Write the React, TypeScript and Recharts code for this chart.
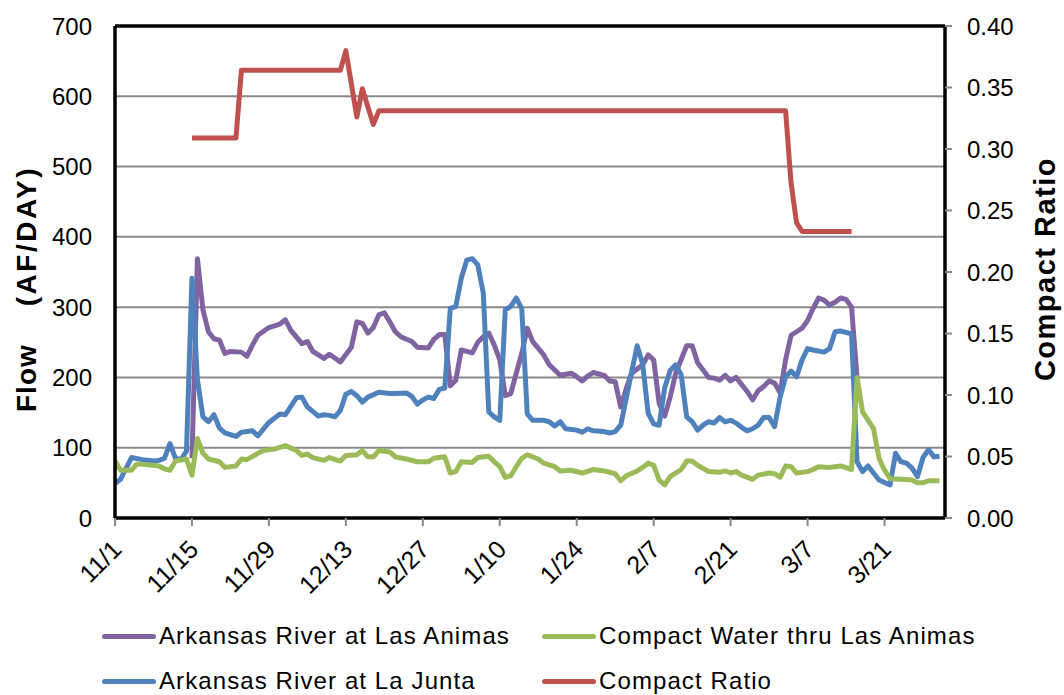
import { LineChart, Line, XAxis, YAxis, CartesianGrid, ReferenceLine } from "recharts";

// x values are days counted from 11/1
const tickDays = [0, 14, 28, 42, 56, 70, 84, 98, 112, 126, 140];
const tickLabels = ["11/1", "11/15", "11/29", "12/13", "12/27", "1/10", "1/24", "2/7", "2/21", "3/7", "3/21"];
const flowTicks = [0, 100, 200, 300, 400, 500, 600, 700];
const ratioTicks = [0, 0.05, 0.1, 0.15, 0.2, 0.25, 0.3, 0.35, 0.4];

// Arkansas River at Las Animas (AF/day)
const animasPoints = [
  [14, 85], [15, 369], [16, 296], [17, 265], [18, 255], [19, 253], [20, 234], [21, 237], [23, 236], [24, 230],
  [25, 246], [26, 260], [28, 271], [30, 276], [31, 282], [32, 267], [34, 248], [35, 251], [36, 237], [38, 227],
  [39, 233], [41, 222], [43, 243], [44, 279], [45, 277], [46, 263], [47, 271], [48, 289], [49, 292], [50, 279],
  [51, 265], [52, 258], [54, 251], [55, 243], [57, 242], [58, 254], [59, 261], [60, 261], [61, 188], [62, 196],
  [63, 239], [64, 237], [65, 235], [66, 250], [67, 258], [68, 263], [69, 246], [70, 225], [71, 174], [72, 177],
  [73, 206], [74, 234], [75, 270], [76, 251], [78, 232], [79, 218], [81, 203], [83, 206], [84, 201], [85, 195],
  [86, 202], [87, 207], [89, 203], [90, 195], [91, 194], [92, 158], [93, 184], [94, 206], [96, 218], [97, 232],
  [98, 225], [99, 163], [100, 145], [101, 172], [102, 206], [104, 245], [105, 245], [106, 221], [108, 200], [109, 199],
  [110, 196], [111, 203], [112, 195], [113, 200], [114, 190], [115, 180], [116, 168], [117, 181], [118, 187], [119, 195],
  [120, 192], [121, 178], [122, 225], [123, 260], [124, 265], [125, 270], [126, 281], [127, 298], [128, 313], [129, 310],
  [130, 303], [131, 307], [132, 313], [133, 311], [134, 300], [135, 200],
];

// Arkansas River at La Junta (AF/day)
const juntaPoints = [
  [0, 49], [1, 55], [3, 86], [5, 83], [7, 81], [8, 82], [9, 85], [10, 106], [11, 85], [12, 83],
  [13, 95], [14, 341], [15, 196], [16, 144], [17, 137], [18, 147], [19, 128], [20, 121], [22, 116], [23, 122],
  [25, 124], [26, 117], [28, 136], [30, 148], [31, 147], [32, 159], [33, 171], [34, 172], [35, 158], [37, 145],
  [38, 147], [39, 146], [40, 144], [41, 153], [42, 176], [43, 180], [44, 174], [45, 165], [46, 172], [48, 179],
  [50, 177], [51, 177], [53, 178], [54, 173], [55, 162], [56, 168], [57, 172], [58, 170], [59, 183], [60, 185],
  [61, 298], [62, 301], [63, 341], [64, 367], [65, 369], [66, 360], [67, 320], [68, 151], [69, 144], [70, 139],
  [71, 296], [72, 301], [73, 313], [74, 298], [75, 148], [76, 139], [78, 139], [79, 137], [80, 131], [81, 137],
  [82, 127], [84, 125], [85, 122], [86, 127], [87, 124], [89, 123], [90, 121], [91, 123], [92, 132], [93, 170],
  [94, 208], [95, 245], [96, 219], [97, 149], [98, 134], [99, 132], [100, 185], [101, 210], [102, 218], [103, 204],
  [104, 144], [105, 137], [106, 125], [107, 132], [108, 137], [109, 135], [110, 143], [111, 137], [112, 139], [113, 135],
  [114, 129], [115, 124], [116, 127], [117, 132], [118, 143], [119, 143], [120, 130], [121, 172], [122, 201], [123, 209],
  [124, 201], [125, 225], [126, 241], [127, 239], [129, 236], [130, 241], [131, 265], [132, 266], [134, 262], [135, 80],
  [136, 66], [137, 74], [139, 54], [141, 47], [142, 92], [143, 80], [144, 78], [145, 71], [146, 59], [147, 86],
  [148, 97], [149, 87], [150, 88],
];

// Compact Water thru Las Animas (AF/day)
const compactPoints = [
  [0, 82], [1, 68], [3, 68], [4, 77], [7, 75], [8, 74], [9, 70], [10, 68], [11, 81], [13, 84],
  [14, 61], [15, 113], [16, 92], [17, 84], [19, 80], [20, 72], [22, 74], [23, 84], [24, 83], [26, 92],
  [27, 96], [29, 98], [31, 103], [33, 96], [34, 89], [35, 91], [36, 86], [38, 82], [39, 86], [41, 81],
  [42, 89], [44, 90], [45, 96], [46, 87], [47, 87], [48, 96], [50, 94], [51, 87], [53, 84], [55, 80],
  [57, 80], [58, 85], [60, 87], [61, 64], [62, 66], [63, 80], [65, 79], [66, 86], [68, 88], [69, 80],
  [70, 73], [71, 58], [72, 60], [73, 73], [74, 85], [75, 90], [77, 84], [78, 78], [80, 73], [81, 67],
  [83, 68], [85, 64], [87, 69], [89, 67], [91, 63], [92, 53], [93, 60], [95, 67], [96, 72], [97, 78],
  [98, 75], [99, 54], [100, 47], [101, 59], [103, 69], [104, 81], [105, 81], [106, 75], [108, 66], [110, 65],
  [111, 67], [112, 64], [113, 66], [114, 61], [116, 55], [117, 61], [119, 64], [120, 63], [121, 58], [122, 74],
  [123, 73], [124, 64], [126, 66], [127, 69], [128, 73], [130, 72], [131, 73], [132, 74], [134, 69], [135, 200],
  [136, 151], [138, 127], [139, 85], [140, 68], [141, 56], [143, 55], [145, 54], [146, 50], [147, 50], [148, 53],
  [150, 53],
];

// Compact Ratio (right axis)
const ratioPoints = [
  [14, 0.309], [22, 0.309], [23, 0.364], [41, 0.364], [42, 0.38], [44, 0.326], [45, 0.349], [47, 0.32], [48, 0.331],
  [122, 0.331], [123, 0.272], [124, 0.24], [125, 0.233], [134, 0.233],
];

const seriesNames = [
  "Arkansas River at Las Animas",
  "Arkansas River at La Junta",
  "Compact Water thru Las Animas",
  "Compact Ratio",
];
const seriesColors = ["#8064A2", "#4F81BD", "#9BBB59", "#C0504D"];

const toRows = (pts: number[][]) => pts.map(([d, v]) => ({ d, v }));

const FONT = "'Liberation Sans', Arial, sans-serif";
const LINE_W = 5;

function DateTick(props: any) {
  const { x, y, payload } = props;
  const label = tickLabels[tickDays.indexOf(payload.value)];
  const tx = x + 8;
  const ty = y + 25;
  return (
    <text x={tx} y={ty} transform={`rotate(-45 ${tx} ${ty})`} textAnchor="end" fontSize={25} fill="#000" fontFamily={FONT}>
      {label}
    </text>
  );
}

const legendSlots = [
  { left: 102, top: 636 },
  { left: 102, top: 681 },
  { left: 542, top: 636 },
  { left: 542, top: 681 },
];

export default function App() {
  return (
    <div style={{ position: "relative", width: 1064, height: 695, fontFamily: FONT, background: "#fff" }}>
      <style>{"body{margin:0}"}</style>
      <LineChart width={1064} height={695} margin={{ top: 26, right: 0, left: 0, bottom: 97 }}>
        <CartesianGrid yAxisId="left" vertical={false} stroke="#8a8a8a" strokeWidth={2} horizontalValues={[100, 200, 300, 400, 500, 600]} />
        <XAxis
          dataKey="d"
          type="number"
          domain={[0, 151]}
          ticks={tickDays}
          interval={0}
          height={80}
          tick={<DateTick />}
          tickSize={8}
          tickMargin={0}
          tickLine={{ stroke: "#888", strokeWidth: 2 }}
          axisLine={{ stroke: "#000", strokeWidth: 3.5 }}
          allowDataOverflow
        />
        <YAxis
          yAxisId="left"
          domain={[0, 700]}
          ticks={flowTicks}
          width={115}
          tickLine={false}
          tickSize={0}
          tickMargin={23}
          axisLine={{ stroke: "#000", strokeWidth: 3.5 }}
          tick={{ fontSize: 24, fill: "#000", fontFamily: FONT }}
          label={{
            content: () => (
              <text x={36} y={412} transform="rotate(-90 36 412)" fontSize={28} fontWeight="bold" fill="#000" fontFamily={FONT} letterSpacing={1}>
                <tspan>Flow</tspan>
                <tspan dx={38} letterSpacing={2.5}>(AF/DAY)</tspan>
              </text>
            ),
          }}
        />
        <YAxis
          yAxisId="right"
          orientation="right"
          domain={[0, 0.4]}
          ticks={ratioTicks}
          width={119}
          tickSize={7}
          tickMargin={15}
          tickLine={{ stroke: "#888", strokeWidth: 2 }}
          axisLine={{ stroke: "#000", strokeWidth: 3.5 }}
          tickFormatter={(v: number) => v.toFixed(2)}
          tick={{ fontSize: 24, fill: "#000", fontFamily: FONT }}
          label={{
            content: () => (
              <text x={1055} y={269} transform="rotate(-90 1055 269)" textAnchor="middle" fontSize={29} fontWeight="bold" fill="#000" fontFamily={FONT} letterSpacing={1.5}>
                Compact Ratio
              </text>
            ),
          }}
        />
        <ReferenceLine yAxisId="left" y={700} stroke="#000" strokeWidth={3.5} />
        <Line yAxisId="left" data={toRows(animasPoints)} dataKey="v" name={seriesNames[0]} stroke={seriesColors[0]} strokeWidth={LINE_W} dot={false} type="linear" strokeLinejoin="round" isAnimationActive={false} />
        <Line yAxisId="left" data={toRows(juntaPoints)} dataKey="v" name={seriesNames[1]} stroke={seriesColors[1]} strokeWidth={LINE_W} dot={false} type="linear" strokeLinejoin="round" isAnimationActive={false} />
        <Line yAxisId="left" data={toRows(compactPoints)} dataKey="v" name={seriesNames[2]} stroke={seriesColors[2]} strokeWidth={LINE_W} dot={false} type="linear" strokeLinejoin="round" isAnimationActive={false} />
        <Line yAxisId="right" data={toRows(ratioPoints)} dataKey="v" name={seriesNames[3]} stroke={seriesColors[3]} strokeWidth={LINE_W} dot={false} type="linear" strokeLinejoin="round" isAnimationActive={false} />
      </LineChart>
      {seriesNames.map((name, i) => (
        <div key={name}>
          <div
            style={{
              position: "absolute",
              left: legendSlots[i].left,
              top: legendSlots[i].top - 2.5,
              width: 54,
              height: 5,
              borderRadius: 3,
              background: seriesColors[i],
            }}
          />
          <span
            style={{
              position: "absolute",
              left: legendSlots[i].left + 57,
              top: legendSlots[i].top - 15,
              fontSize: 24,
              lineHeight: "30px",
              letterSpacing: 1.1,
              whiteSpace: "nowrap",
              color: "#000",
            }}
          >
            {name}
          </span>
        </div>
      ))}
    </div>
  );
}
